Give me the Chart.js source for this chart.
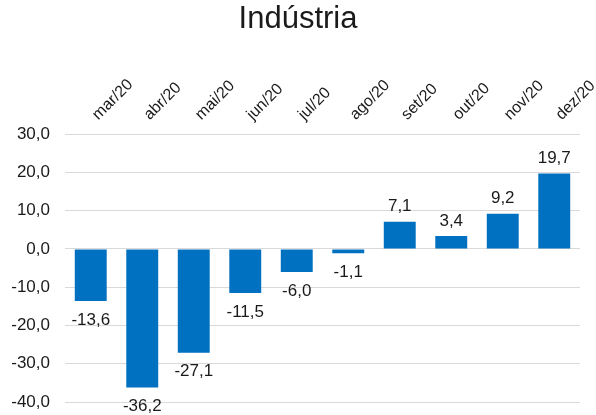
<!DOCTYPE html>
<html><head><meta charset="utf-8">
<script src="https://cdn.jsdelivr.net/npm/chart.js@4/dist/chart.umd.min.js"></script>
<style>html,body{margin:0;padding:0;background:#fff}#w{width:596px;height:415px}</style>
</head><body><div id="w"><canvas id="c"></canvas></div>
<script>
const categories = ['mar/20','abr/20','mai/20','jun/20','jul/20','ago/20','set/20','out/20','nov/20','dez/20'];
const values = [-13.6,-36.2,-27.1,-11.5,-6.0,-1.1,7.1,3.4,9.2,19.7];
const yTicks = [30,20,10,0,-10,-20,-30,-40];
const fmt = v => v.toFixed(1).replace('.', ',');
const FONT = '"Liberation Sans", Arial, sans-serif';

const labelsPlugin = {
  id: 'vlabels',
  afterDatasetsDraw(chart) {
    const ctx = chart.ctx;
    const meta = chart.getDatasetMeta(0);
    ctx.save();
    ctx.font = '17px ' + FONT;
    ctx.fillStyle = '#1a1a1a';
    ctx.textAlign = 'center';
    ctx.textBaseline = 'middle';
    meta.data.forEach((bar, i) => {
      const v = values[i];
      const y = v >= 0 ? bar.y - 15 : bar.y + 19;
      ctx.fillText(fmt(v), bar.x, y);
    });
    ctx.restore();
  }
};

new Chart(document.getElementById('c'), {
  type: 'bar',
  data: { labels: categories, datasets: [{ data: values, backgroundColor: '#0070C0', categoryPercentage: 1, barPercentage: 0.62 }] },
  plugins: [labelsPlugin],
  options: {
    responsive: true, maintainAspectRatio: false, animation: false,
    layout: { padding: { left: 0, right: 0, top: 0, bottom: 13 } },
    plugins: {
      legend: { display: false }, tooltip: { enabled: false },
      title: { display: true, text: 'Indústria', color: '#1a1a1a', font: { family: FONT, size: 31, weight: 'normal' }, padding: { top: 1, bottom: 0 } }
    },
    scales: {
      x: {
        position: 'top',
        grid: { display: false }, border: { display: false },
        ticks: { minRotation: 45, maxRotation: 45, color: '#1a1a1a', font: { family: FONT, size: 16 }, padding: 2, labelOffset: 18 },
        afterFit: s => { s.height = 96; s.paddingLeft = 0; s.paddingRight = 16; }
      },
      y: {
        min: -40, max: 30,
        afterBuildTicks: s => { s.ticks = yTicks.map(v => ({ value: v })); },
        grid: { color: '#d9d9d9', lineWidth: 1, drawTicks: false }, border: { display: false },
        ticks: { color: '#1a1a1a', font: { family: FONT, size: 17 }, padding: 15, callback: v => fmt(v) },
        afterFit: s => { s.width = 65; s.paddingTop = 0; s.paddingBottom = 0; }
      }
    }
  }
});
</script></body></html>
